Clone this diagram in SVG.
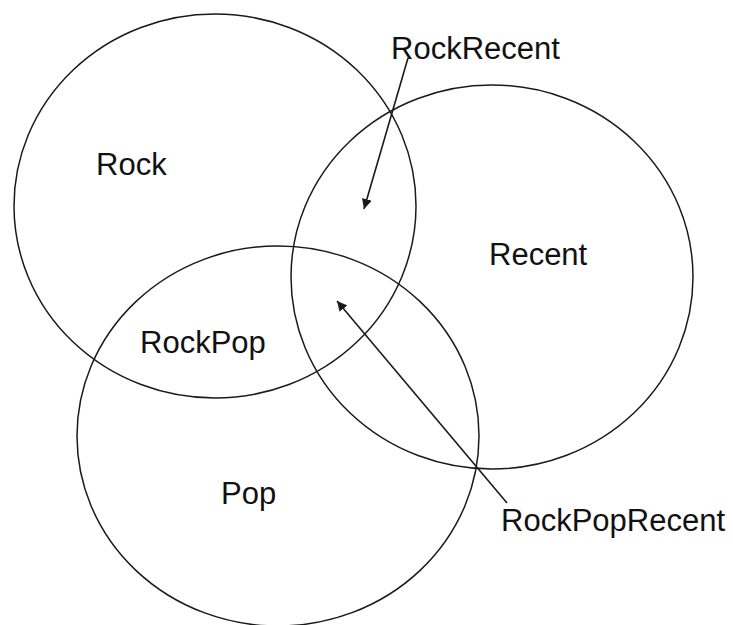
<svg xmlns="http://www.w3.org/2000/svg" width="733" height="625" viewBox="0 0 733 625">
<style>
.set{fill:none;stroke:#1a1a1a;stroke-width:1.5}
.lbl{font-family:"Liberation Sans",Arial,sans-serif;font-size:31px;fill:#111}
.conn{stroke:#1a1a1a;stroke-width:1.6;fill:none}
</style>
<defs>
<marker id="ah" viewBox="0 0 10 10" refX="10" refY="5" markerWidth="10" markerHeight="10" markerUnits="userSpaceOnUse" orient="auto">
<path d="M0,0 L10,5 L0,10 z" fill="#1a1a1a"/>
</marker>
</defs>
<rect width="733" height="625" fill="#fff"/>
<g id="rock">
<ellipse class="set" cx="215" cy="206" rx="201" ry="192"/>
<text class="lbl" x="96" y="175">Rock</text>
</g>
<g id="recent">
<ellipse class="set" cx="492" cy="277" rx="201" ry="192"/>
<text class="lbl" x="489" y="265">Recent</text>
</g>
<g id="pop">
<ellipse class="set" cx="278" cy="436" rx="201" ry="190"/>
<text class="lbl" x="221" y="504">Pop</text>
</g>
<g id="rockpop">
<text class="lbl" x="140" y="353">RockPop</text>
</g>
<g id="rockrecent">
<text class="lbl" x="391" y="59">RockRecent</text>
</g>
<g id="rockpoprecent">
<text class="lbl" x="501" y="531">RockPopRecent</text>
</g>
<g id="connectors">
<line class="conn" x1="408" y1="58" x2="364" y2="209" marker-end="url(#ah)"/>
<line class="conn" x1="507" y1="503" x2="337" y2="301" marker-end="url(#ah)"/>
</g>
</svg>
